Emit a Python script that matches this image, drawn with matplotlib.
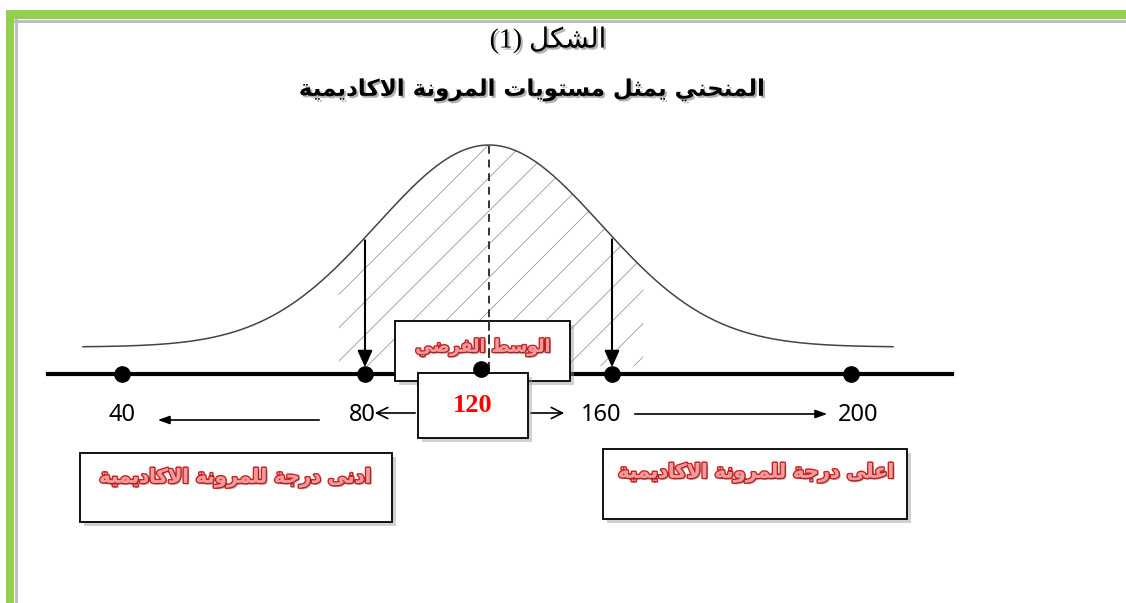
import numpy as np
import matplotlib
matplotlib.use('Agg')
import matplotlib.pyplot as plt
from matplotlib.patches import Rectangle
import matplotlib.patheffects as pe

# --- texts / values ---
fig_word = "الشكل"
fig_num = "(1)"
title = "المنحني يمثل مستويات المرونة الاكاديمية"
mean_label = "الوسط الفرضي"
low_label = "ادنى درجة للمرونة الاكاديمية"
high_label = "اعلى درجة للمرونة الاكاديمية"
scores = [40, 80, 120, 160, 200]
mean_score = 120

# layout: where each score sits on the drawn line (pixel canvas)
score_x = [122, 365, 481, 612, 851]

# --- tiny arabic shaper (no raqm in matplotlib) ---
_dual = {'ب': 0xFE8F, 'ت': 0xFE95, 'ث': 0xFE99, 'ج': 0xFE9D, 'ح': 0xFEA1, 'خ': 0xFEA5,
         'س': 0xFEB1, 'ش': 0xFEB5, 'ص': 0xFEB9, 'ض': 0xFEBD, 'ط': 0xFEC1, 'ظ': 0xFEC5,
         'ع': 0xFEC9, 'غ': 0xFECD, 'ف': 0xFED1, 'ق': 0xFED5, 'ك': 0xFED9, 'ل': 0xFEDD,
         'م': 0xFEE1, 'ن': 0xFEE5, 'ه': 0xFEE9, 'ي': 0xFEF1}
_right = {'ا': 0xFE8D, 'ة': 0xFE93, 'د': 0xFEA9, 'ذ': 0xFEAB, 'ر': 0xFEAD, 'ز': 0xFEAF,
          'و': 0xFEED, 'ى': 0xFEEF, 'أ': 0xFE83, 'إ': 0xFE87, 'آ': 0xFE81}
_lamalef = {'ا': 0xFEFB, 'أ': 0xFEF7, 'إ': 0xFEF9, 'آ': 0xFEF5}


def shape(s):
    out = []
    i = 0
    while i < len(s):
        c = s[i]
        if c not in _dual and c not in _right:
            out.append(c)
            i += 1
            continue
        prev = s[i-1] if i > 0 else ''
        jp = prev in _dual
        if c == 'ل' and i + 1 < len(s) and s[i+1] in _lamalef:
            out.append(chr(_lamalef[s[i+1]] + (1 if jp else 0)))
            i += 2
            continue
        nxt = s[i+1] if i + 1 < len(s) else ''
        jn = c in _dual and (nxt in _dual or nxt in _right)
        if c in _dual:
            b = _dual[c]
            g = b + 3 if (jp and jn) else b + 1 if jp else b + 2 if jn else b
        else:
            b = _right[c]
            g = b + 1 if jp else b
        out.append(chr(g))
        i += 1
    return ''.join(out)[::-1]


W, H = 1126, 603
fig = plt.figure(figsize=(W/100, H/100), dpi=100)
ax = fig.add_axes([0, 0, 1, 1])
ax.set_xlim(0, W)
ax.set_ylim(H, 0)
ax.axis('off')

plt.rcParams['hatch.linewidth'] = 0.6

# green frame
ax.add_patch(Rectangle((6, 10), W, 9, color='#92d050', lw=0, zorder=5))
ax.add_patch(Rectangle((6, 10), 8, H, color='#92d050', lw=0, zorder=5))
ax.plot([14, W], [20.5, 20.5], color='#bbbbbb', lw=2, zorder=4)
ax.plot([15.5, 15.5], [19, H], color='#bbbbbb', lw=2, zorder=4)

# titles
ax.text(548, 40, fig_num + ' ' + shape(fig_word), fontsize=20, ha='center', va='center',
        family=['Liberation Serif', 'DejaVu Sans'],
        path_effects=[pe.withSimplePatchShadow(offset=(1.5, -1.5), alpha=0.3)])
ax.text(531, 90, shape(title), fontsize=16.5, fontweight='bold', ha='center', va='center',
        family=['DejaVu Sans'],
        path_effects=[pe.withSimplePatchShadow(offset=(1.5, -1.5), alpha=0.3)])

# bell curve
cx = np.interp(mean_score, scores, score_x) + 8
xs = np.linspace(83, 893, 400)
ys = 347 - 202 * np.exp(-(xs - cx) ** 2 / (2 * 112 ** 2))
ax.plot(xs, ys, color='#444444', lw=1.1, zorder=3)

lo = np.interp(80, scores, score_x) - 27
hi = np.interp(160, scores, score_x) + 33
m = (xs >= lo) & (xs <= hi)
ax.fill_between(xs[m], ys[m], 366, facecolor='none', edgecolor='#999999', hatch='/', lw=0, zorder=2)

# dashed mean line
ax.plot([cx, cx], [146, 372], color='#333333', lw=1.4, ls=(0, (4, 3)), zorder=6)

# main line + dots
ax.plot([48, 952], [374, 374], color='black', lw=3, zorder=3)
ax.plot(score_x, [374] * len(score_x), 'o', color='black', ms=11, zorder=7)

# down arrows at 80 and 160
for v in (80, 160):
    xv = np.interp(v, scores, score_x)
    yv = 347 - 202 * np.exp(-(xv - cx) ** 2 / (2 * 112 ** 2))
    ax.annotate('', xy=(xv, 370), xytext=(xv, yv),
                arrowprops=dict(arrowstyle='-|>,head_length=1.0,head_width=0.45', color='black', lw=1.5),
                zorder=6)


def box(x0, y0, x1, y1, z=5):
    ax.add_patch(Rectangle((x0 + 4, y0 + 4), x1 - x0, y1 - y0, color='#999999', alpha=0.45, lw=0, zorder=z))
    ax.add_patch(Rectangle((x0, y0), x1 - x0, y1 - y0, facecolor='white', edgecolor='black', lw=1.3, zorder=z + 0.1))


red_fx = [pe.Stroke(linewidth=2.2, foreground='#cc2222'), pe.Normal(),
          pe.withSimplePatchShadow(offset=(1.5, -1.5), alpha=0.25)]

# mean box
box(395, 321, 570, 381)
ax.text(483, 347, shape(mean_label), fontsize=12.5, fontweight='bold', color='#f29a9a',
        ha='center', va='center', family=['DejaVu Sans'], path_effects=red_fx, zorder=6)
ax.plot([cx, cx], [321, 372], color='#333333', lw=1.4, ls=(0, (4, 3)), zorder=6.5)

# 120 box
box(418, 373, 528, 438, z=7)
ax.text(473, 406, str(mean_score), fontsize=19, fontweight='bold', color='red',
        ha='center', va='center', family='Liberation Serif', zorder=8)
ax.plot([np.interp(mean_score, scores, score_x)], [369], 'o', color='black', ms=11, zorder=9)

# score labels
lab_dx = [0, -3, 0, -11, 7]
for v, xv, dx in zip(scores, score_x, lab_dx):
    if v == mean_score:
        continue
    ax.text(xv + dx, 415, str(v), fontsize=17, ha='center', va='center', family='Noto Sans', zorder=8)

# horizontal arrows
arr = dict(arrowstyle='->,head_length=0.8,head_width=0.4', color='black', lw=1.2)
ax.annotate('', xy=(372, 413), xytext=(418, 413), arrowprops=arr)
ax.annotate('', xy=(567, 413), xytext=(528, 413), arrowprops=arr)
arr2 = dict(arrowstyle='-|>,head_length=0.7,head_width=0.25', color='black', lw=1.2)
ax.annotate('', xy=(155, 420), xytext=(322, 420), arrowprops=arr2)
ax.annotate('', xy=(830, 414), xytext=(632, 414), arrowprops=arr2)

# bottom boxes
box(80, 453, 392, 522)
ax.text(236, 478, shape(low_label), fontsize=14, fontweight='bold', color='#f29a9a',
        ha='center', va='center', family=['DejaVu Sans'], path_effects=red_fx, zorder=6)
box(603, 449, 907, 519)
ax.text(757, 473, shape(high_label), fontsize=14, fontweight='bold', color='#f29a9a',
        ha='center', va='center', family=['DejaVu Sans'], path_effects=red_fx, zorder=6)

fig.savefig('out.png', dpi=100)
